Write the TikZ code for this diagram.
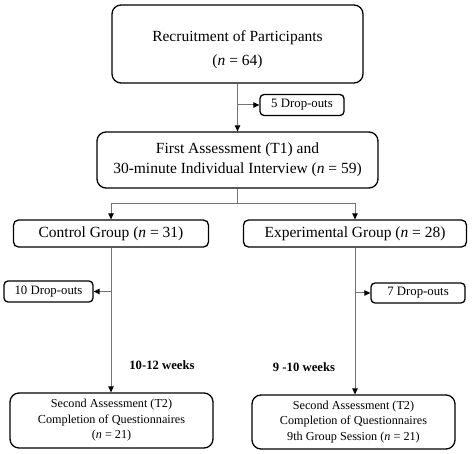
\documentclass[tikz,border=0pt]{standalone}
\usepackage{fontspec}
\setmainfont{Liberation Serif}
\usepackage{tikz}
\usetikzlibrary{arrows.meta, positioning, calc}

\tikzset{
  box/.style={draw, line width=1.3pt, rounded corners=9pt, align=center, inner sep=2pt},
  bigtext/.style={font=\fontsize{15.5}{20}\selectfont},
  smalltext/.style={font=\fontsize{12.2}{15.5}\selectfont},
  dropbox/.style={draw, line width=1.3pt, rounded corners=4pt, align=center, inner sep=1pt, font=\fontsize{12.8}{15}\selectfont},
  link/.style={draw=black!55, line width=1pt, -{Triangle[length=6pt,width=5.5pt,fill=black,color=black]}},
  weeks/.style={font=\bfseries\fontsize{12.7}{15}\selectfont}
}

\begin{document}
\begin{tikzpicture}[x=1pt, y=-1pt]
  \useasboundingbox (0,0) rectangle (474,454);
  % --- Boites principales ---
  \node[box, bigtext, font=\fontsize{15.5}{24}\selectfont, minimum width=251pt, minimum height=78pt] (recruit) at (237.5,44)
    {\rule{0pt}{23pt}Recruitment of Participants\\(\textit{n} = 64)};
  \node[box, bigtext, minimum width=281pt, minimum height=56pt] (assess) at (237.5,160)
    {First Assessment (T1) and\\30-minute Individual Interview (\textit{n} = 59)};
  \node[box, bigtext, rounded corners=5pt, minimum width=195pt, minimum height=27pt] (control) at (111,233.5)
    {Control Group (\textit{n} = 31)};
  \node[box, bigtext, rounded corners=5pt, minimum width=223pt, minimum height=27pt] (exper) at (355,233.5)
    {Experimental Group (\textit{n} = 28)};
  \node[box, smalltext, minimum width=203pt, minimum height=55pt] (second1) at (111.5,420.5)
    {Second Assessment (T2)\\Completion of Questionnaires\\(\textit{n} = 21)};
  \node[box, smalltext, minimum width=203pt, minimum height=54pt] (second2) at (353.5,422)
    {Second Assessment (T2)\\Completion of Questionnaires\\9th Group Session (\textit{n} = 21)};
  % --- Abandons ---
  \node[dropbox, minimum width=84pt, minimum height=21pt] (drop5) at (302,105) {5 Drop-outs};
  \node[dropbox, minimum width=89pt, minimum height=21pt] (drop10) at (48.5,291.5) {10 Drop-outs};
  \node[dropbox, minimum width=94pt, minimum height=20pt] (drop7) at (418,293) {7 Drop-outs};
  % --- Durees ---
  \node[weeks] (wk1) at (162,365) {10-12 weeks};
  \node[weeks] (wk2) at (304,367) {9 -10 weeks};
  % --- Liaisons ---
  \coordinate (split) at (237.5,204);
  \draw[link] (recruit) -- (assess);
  \draw[link] (recruit.south |- drop5.west) -- (drop5.west);
  \draw[draw=black!55, line width=1pt] (assess) -- (split);
  \draw[link] (split) -| (control);
  \draw[link] (split) -| (exper);
  \draw[link] (control) -- (control |- second1.north);
  \draw[link] (exper) -- (exper |- second2.north);
  \draw[link] (control.south |- drop10.east) -- (drop10.east);
  \draw[link] (exper.south |- drop7.west) -- (drop7.west);
\end{tikzpicture}
\end{document}
